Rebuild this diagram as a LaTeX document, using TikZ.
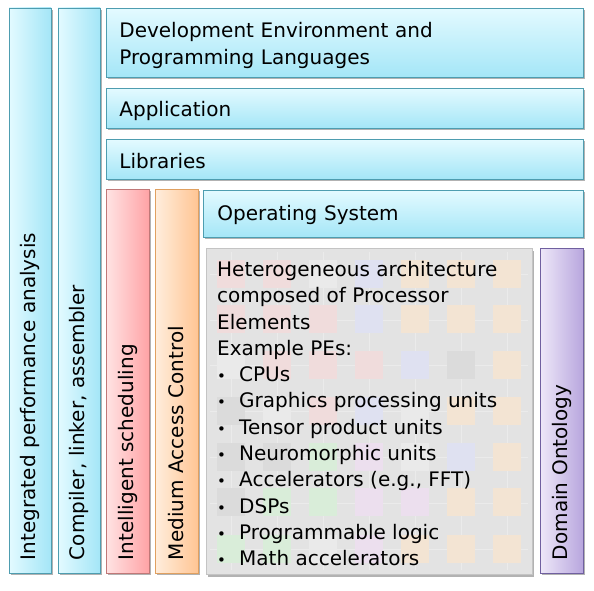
\documentclass[tikz,border=0pt]{standalone}
\usepackage{fontspec}
\setmainfont{DejaVu Sans}
\usetikzlibrary{shadows}
\definecolor{cyanA}{HTML}{E3FAFF}
\definecolor{cyanB}{HTML}{A4E6F7}
\definecolor{cyanE}{HTML}{4E9DB0}
\definecolor{redA}{HTML}{FFE4E4}
\definecolor{redB}{HTML}{FFA3A6}
\definecolor{redE}{HTML}{C07878}
\definecolor{orgA}{HTML}{FFEEDD}
\definecolor{orgB}{HTML}{FFC594}
\definecolor{orgE}{HTML}{E0A060}
\definecolor{purA}{HTML}{EEE8F8}
\definecolor{purB}{HTML}{B8A6DE}
\definecolor{purE}{HTML}{7060A0}
\definecolor{grayF}{HTML}{E3E3E3}
\definecolor{grayE}{HTML}{C4C4C4}
\definecolor{pk}{HTML}{F0DCDC}
\definecolor{og}{HTML}{F3E4D3}
\definecolor{bl}{HTML}{DFE1F1}
\definecolor{gn}{HTML}{D9EDD9}
\definecolor{pu}{HTML}{ECDFEE}
\definecolor{gy}{HTML}{DBDBDB}
\definecolor{wt}{HTML}{EAEAEA}
\definecolor{ln}{HTML}{EBEBEB}
\begin{document}
\begin{tikzpicture}[x=1pt,y=-1pt,
  layer/.style={line width=0.8pt, inner sep=0pt,
    drop shadow={shadow xshift=1.5pt, shadow yshift=-2pt, opacity=0.3, fill=black},
    font=\fontsize{20}{27}\selectfont},
  hlayer/.style={layer, draw=cyanE, top color=cyanA, bottom color=cyanB, align=left, anchor=north west},
  vlayer/.style={layer, rotate=90, align=left},
  vcyan/.style={vlayer, draw=cyanE, left color=cyanA, right color=cyanB},
  vred/.style={vlayer, draw=redE, left color=redA, right color=redB},
  vorg/.style={vlayer, draw=orgE, left color=orgA, right color=orgB},
  vpur/.style={vlayer, draw=purE, left color=purA, right color=purB}
]
\useasboundingbox (0,0) rectangle (594,591);
\fill[white] (0,0) rectangle (594,591);

% horizontal layers
\node[hlayer, minimum width=477pt, minimum height=69pt, text width=451pt] (dev) at (106,8)
  {\rule{0pt}{21pt}Development Environment and\\Programming Languages};
\node[hlayer, minimum width=477pt, minimum height=40pt, text width=451pt, text height=21pt] (app) at (106,88) {Application};
\node[hlayer, minimum width=477pt, minimum height=40pt, text width=451pt, text height=19pt] (lib) at (106,139) {Libraries};
\node[hlayer, minimum width=380pt, minimum height=47pt, text width=352pt, text height=17pt] (os) at (203,190) {Operating System};

% vertical columns
\node[vcyan, minimum width=565pt, minimum height=42pt, text width=539pt] (perf) at (30,290.5)
  {Integrated performance analysis};
\node[vcyan, minimum width=565pt, minimum height=42pt, text width=539pt] (comp) at (79,290.5)
  {Compiler, linker, assembler};
\node[vred, minimum width=384pt, minimum height=43pt, text width=358pt] (sched) at (127.5,381)
  {Intelligent scheduling};
\node[vorg, minimum width=384pt, minimum height=43pt, text width=358pt] (mac) at (176.5,381)
  {Medium Access Control};
\node[vpur, minimum width=325pt, minimum height=43pt, text width=299pt] (onto) at (561.5,410.5)
  {Domain Ontology};

% heterogeneous architecture box
\node[draw=grayE, fill=grayF, line width=1pt, inner sep=0pt, anchor=north west,
  minimum width=326pt, minimum height=326pt,
  drop shadow={shadow xshift=1.5pt, shadow yshift=-2pt, opacity=0.3, fill=black}] (het) at (206,248) {};

% faint circuit traces
\foreach \k in {0,...,6} {
  \draw[ln, line width=0.6pt] (210,274+45.8*\k) -- (528,274+45.8*\k);
  \draw[ln, line width=0.6pt] (231+46*\k,252) -- (231+46*\k,570);
}
% faint processor-element grid
\foreach \c [count=\i from 0] in {pk,pk,wt,bl,og,og,og}
  \fill[\c] (217+46*\i,260) rectangle +(28,28);
\foreach \c [count=\i from 0] in {pk,pk,pk,bl,og,og,og}
  \fill[\c] (217+46*\i,305) rectangle +(28,28);
\foreach \c [count=\i from 0] in {wt,pk,pk,pk,bl,gy,og}
  \fill[\c] (217+46*\i,351) rectangle +(28,28);
\foreach \c [count=\i from 0] in {gy,wt,pk,bl,wt,og,og}
  \fill[\c] (217+46*\i,397) rectangle +(28,28);
\foreach \c [count=\i from 0] in {gy,gy,gn,pu,wt,bl,og}
  \fill[\c] (217+46*\i,443) rectangle +(28,28);
\foreach \c [count=\i from 0] in {gy,gn,gn,pu,pu,og,og}
  \fill[\c] (217+46*\i,488) rectangle +(28,28);
\foreach \c [count=\i from 0] in {gn,gn,wt,pu,og,og,og}
  \fill[\c] (217+46*\i,535) rectangle +(28,28);

\newcommand{\pebul}{\makebox[22pt][l]{\fontsize{15}{15}\selectfont •}}
\node[anchor=north west, inner sep=0pt, align=left, font=\fontsize{20}{26.3}\selectfont] (hettext) at (217,261)
  {Heterogeneous architecture\\
   composed of Processor\\
   Elements\\
   Example PEs:\\
   \pebul CPUs\\
   \pebul Graphics processing units\\
   \pebul Tensor product units\\
   \pebul Neuromorphic units\\
   \pebul Accelerators (e.g., FFT)\\
   \pebul DSPs\\
   \pebul Programmable logic\\
   \pebul Math accelerators};
\end{tikzpicture}
\end{document}
